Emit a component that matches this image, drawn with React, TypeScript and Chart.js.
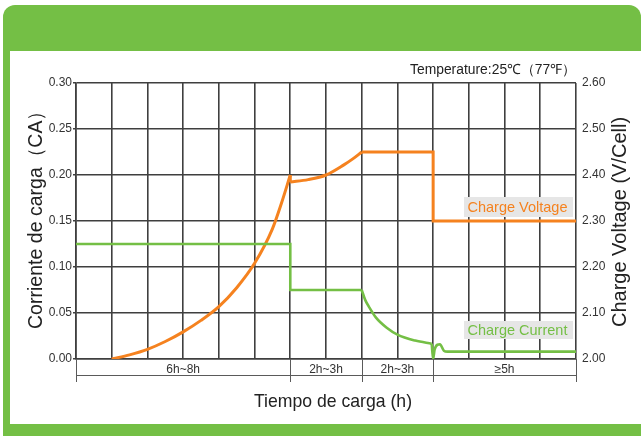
import React, { useEffect, useRef } from "react";
import { Chart, registerables } from "chart.js";

Chart.register(...registerables);

// ---- Data ----
// Charge voltage (V/Cell) vs. charge time (grid units)
const voltRiseHours = [1, 1.5, 2, 2.5, 3, 3.5, 4, 4.5, 5, 5.5, 5.75, 6];
const voltRiseValues = [2.0, 2.009, 2.021, 2.038, 2.059, 2.084, 2.114, 2.155, 2.208, 2.283, 2.338, 2.4];
const voltDropHours = [6, 6];
const voltDropValues = [2.4, 2.385];
const voltAbsorbHours = [6, 6.5, 7, 7.5, 7.75, 8];
const voltAbsorbValues = [2.385, 2.39, 2.4, 2.422, 2.435, 2.45];
const voltFloatHours = [8, 10, 10, 14];
const voltFloatValues = [2.45, 2.45, 2.3, 2.3];

// Charge current (CA)
const currStepHours = [0, 6, 6, 8];
const currStepValues = [0.125, 0.125, 0.075, 0.075];
const currDecayHours = [8, 8.1, 8.2, 8.4, 8.7, 9, 9.5, 9.96];
const currDecayValues = [0.075, 0.064, 0.057, 0.045, 0.034, 0.0265, 0.02, 0.0166];
const currTailHours = [9.96, 10, 10.04, 10.12, 10.19, 10.3, 10.4, 14];
const currTailValues = [0.0166, 0.0, 0.01, 0.0155, 0.016, 0.009, 0.008, 0.008];

// Axis ticks and labels
const currentTicks = [0, 0.05, 0.1, 0.15, 0.2, 0.25, 0.3];
const voltageTicks = [2.0, 2.1, 2.2, 2.3, 2.4, 2.5, 2.6];
const stageBounds = [0, 6, 8, 10, 14];
const stageLabels = ["6h~8h", "2h~3h", "2h~3h", "≥5h"];

const GREEN = "#74bf45";
const ORANGE = "#f5821f";
const GRID = "#3f3f3f";
const FONT = "'Liberation Sans', Arial, sans-serif";

const pts = (xs: number[], ys: number[]) => xs.map((x, i) => ({ x, y: ys[i] }));

const decorPlugin = {
  id: "decor",
  beforeDraw(chart: any) {
    const ctx = chart.ctx as CanvasRenderingContext2D;
    ctx.save();
    ctx.fillStyle = "#ffffff";
    ctx.fillRect(0, 0, chart.width, chart.height);
    ctx.fillStyle = GREEN;
    ctx.beginPath();
    (ctx as any).roundRect(3, 5, 638, 46, [12, 12, 0, 0]);
    ctx.fill();
    ctx.fillRect(3, 50, 7, 376);
    ctx.fillRect(3, 424, 638, 12);
    ctx.restore();
  },
  afterDraw(chart: any) {
    const ctx = chart.ctx as CanvasRenderingContext2D;
    const xs = chart.scales.x;
    const ca = chart.chartArea;
    ctx.save();
    // stage row
    ctx.strokeStyle = "#5a5a5a";
    ctx.lineWidth = 1;
    ctx.beginPath();
    ctx.moveTo(ca.left, 375.5);
    ctx.lineTo(ca.right, 375.5);
    stageBounds.forEach((h) => {
      const px = Math.round(xs.getPixelForValue(h)) + 0.5;
      ctx.moveTo(px, ca.bottom);
      ctx.lineTo(px, 382);
    });
    ctx.stroke();
    ctx.fillStyle = "#333";
    ctx.font = `12px ${FONT}`;
    ctx.textAlign = "center";
    ctx.textBaseline = "alphabetic";
    stageLabels.forEach((lab, i) => {
      const mid = (xs.getPixelForValue(stageBounds[i]) + xs.getPixelForValue(stageBounds[i + 1])) / 2;
      ctx.fillText(lab, mid, 373);
    });
    // x title
    ctx.fillStyle = "#222";
    ctx.font = `19px ${FONT}`;
    ctx.fillText("Tiempo de carga (h)", 333, 407, 158);
    // temperature
    ctx.font = `14px ${FONT}`;
    ctx.textAlign = "right";
    ctx.fillText("Temperature:25℃（77℉）", 576, 74, 166);
    // left title
    ctx.save();
    ctx.translate(41.5, 215);
    ctx.rotate(-Math.PI / 2);
    ctx.textAlign = "center";
    ctx.font = `20px ${FONT}`;
    ctx.fillText("Corriente de carga（CA）", 0, 0, 228);
    ctx.restore();
    // right title
    ctx.save();
    ctx.translate(626, 222);
    ctx.rotate(-Math.PI / 2);
    ctx.textAlign = "center";
    ctx.font = `20px ${FONT}`;
    ctx.fillText("Charge Voltage (V/Cell)", 0, 0, 230);
    ctx.restore();
    // legend boxes
    ctx.fillStyle = "#e6e6e6";
    ctx.fillRect(464, 197, 109, 20);
    ctx.fillRect(464, 321, 109, 18);
    ctx.textAlign = "left";
    ctx.font = `14.5px ${FONT}`;
    ctx.fillStyle = ORANGE;
    ctx.fillText("Charge Voltage", 467.5, 212, 103);
    ctx.fillStyle = GREEN;
    ctx.fillText("Charge Current", 467.5, 334.5, 103);
    ctx.restore();
  },
};

export default function App() {
  const ref = useRef<HTMLCanvasElement | null>(null);
  useEffect(() => {
    if (!ref.current) return;
    const line = (data: any[], color: string, width: number, axis: string, smooth: boolean) => ({
      data,
      borderColor: color,
      backgroundColor: color,
      borderWidth: width,
      pointRadius: 0,
      fill: false,
      yAxisID: axis,
      tension: 0,
      cubicInterpolationMode: smooth ? "monotone" : "default",
    });
    const chart = new Chart(ref.current, {
      type: "line",
      data: {
        datasets: [
          line(pts(currStepHours, currStepValues), GREEN, 2.6, "y", false),
          line(pts(currDecayHours, currDecayValues), GREEN, 2.6, "y", true),
          line(pts(currTailHours, currTailValues), GREEN, 2.6, "y", true),
          line(pts(voltRiseHours, voltRiseValues), ORANGE, 3, "y1", true),
          line(pts(voltDropHours, voltDropValues), ORANGE, 3, "y1", false),
          line(pts(voltAbsorbHours, voltAbsorbValues), ORANGE, 3, "y1", true),
          line(pts(voltFloatHours, voltFloatValues), ORANGE, 3, "y1", false),
        ] as any,
      },
      options: {
        responsive: false,
        animation: false,
        devicePixelRatio: 1,
        layout: { padding: { top: 83, left: 0, right: 0, bottom: 0 } },
        plugins: { legend: { display: false }, tooltip: { enabled: false } },
        scales: {
          x: {
            type: "linear",
            min: 0,
            max: 14,
            ticks: { display: false, stepSize: 1 },
            grid: { color: GRID, lineWidth: 1.6, drawTicks: false },
            border: { color: GRID, width: 1.6 },
            afterFit: (s: any) => {
              s.height = 77;
            },
          },
          y: {
            position: "left",
            min: 0,
            max: 0.3,
            afterBuildTicks: (s: any) => {
              s.ticks = currentTicks.map((v) => ({ value: v }));
            },
            ticks: {
              callback: (v: any) => Number(v).toFixed(2),
              font: { size: 12, family: FONT },
              color: "#333",
              padding: 1,
            },
            grid: { color: GRID, lineWidth: 1.6, tickLength: 3 },
            border: { color: GRID, width: 1.6 },
            afterFit: (s: any) => {
              s.width = 76;
            },
          },
          y1: {
            position: "right",
            min: 2.0,
            max: 2.6,
            afterBuildTicks: (s: any) => {
              s.ticks = voltageTicks.map((v) => ({ value: v }));
            },
            ticks: {
              callback: (v: any) => Number(v).toFixed(2),
              font: { size: 12, family: FONT },
              color: "#333",
              padding: 6,
            },
            grid: { display: false, drawTicks: false },
            border: { display: false },
            afterFit: (s: any) => {
              s.width = 65;
            },
          },
        },
      } as any,
      plugins: [decorPlugin],
    });
    return () => chart.destroy();
  }, []);
  return (
    <div style={{ position: "fixed", left: 0, top: 0, width: 641, height: 436 }}>
      <canvas ref={ref} width={641} height={436} style={{ width: 641, height: 436, display: "block" }} />
    </div>
  );
}
